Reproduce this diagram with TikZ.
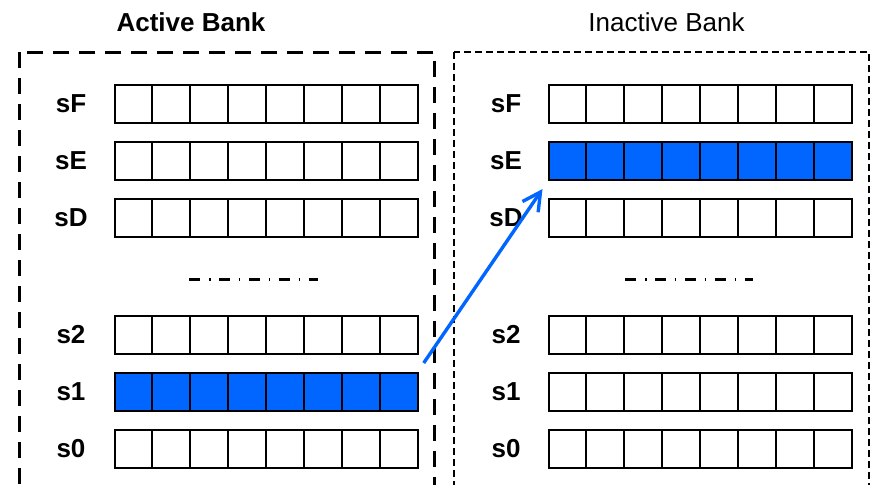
\documentclass[tikz,border=0pt]{standalone}
\usepackage{fontspec}
\setmainfont{Liberation Sans}
\usetikzlibrary{arrows.meta,calc}
\definecolor{regblue}{RGB}{0,102,255}
\tikzset{
cell/.style={
  draw=black,
  line width=1pt,
  minimum width=18.95pt,
  minimum height=19pt,
  inner sep=0pt,
  outer sep=0pt
},
act-1/.style={fill=regblue},
inact-E/.style={fill=regblue},
reglabel/.style={
  font=\fontsize{13}{15}\selectfont\bfseries,
  inner sep=0pt
},
banktitle/.style={
  font=\fontsize{13}{15}\selectfont,
  inner sep=0pt
},
activebox/.style={
  draw=black,
  line width=1.5pt,
  dash pattern=on 8pt off 5pt
},
inactivebox/.style={
  draw=black,
  line width=0.65pt,
  dash pattern=on 3.5pt off 2pt
},
gapline/.style={
  draw=black,
  line width=1.5pt,
  dash pattern=on 5.7pt off 4.2pt on 0.85pt off 4.2pt
},
movearrow/.style={
  -{Straight Barb[length=9pt,width=9.5pt]},
  line width=1.7pt,
  draw=regblue
}
}

\begin{document}
\begin{tikzpicture}[x=0.5pt,y=-0.5pt]
    \useasboundingbox (0,0) rectangle (871,484);
    \clip (0,0) rectangle (871,484);

    % Bank frames
    \draw[activebox] (19,52) rectangle (434,520);
    \draw[inactivebox] (454,52) rectangle (869,520);

    % Titles
    \node[banktitle, font=\fontsize{13}{15}\selectfont\bfseries] (acttitle) at (191,22) {Active Bank};
    \node[banktitle] (inacttitle) at (666.5,22) {Inactive Bank};

    % Registers
    \foreach \r/\y in {F/104,E/161,D/218,2/335,1/392,0/449} {
      \node[reglabel] (act-l\r) at (71,\y) {s\r};
      \node[reglabel] (inact-l\r) at (506,\y) {s\r};
      \foreach \c in {1,...,8} {
        \node[cell, act-\r/.try] (act-\r-\c) at ({114.5+37.9*(\c-0.5)},\y) {};
        \node[cell, inact-\r/.try] (inact-\r-\c) at ({548.5+37.9*(\c-0.5)},\y) {};
      }
    }

    % Omitted registers
    \coordinate (actgapA) at (189,279);
    \coordinate (actgapB) at (318,279);
    \coordinate (inactgapA) at (625,279);
    \coordinate (inactgapB) at (753,279);
    \draw[gapline] (actgapA) -- (actgapB);
    \draw[gapline] (inactgapA) -- (inactgapB);

    % Copy s1 -> sE
    \draw[movearrow] ($(act-1-8.north east)+(6,-10)$) -- ($(inact-E-1.south west)+(-6,9)$);

  \end{tikzpicture}
\end{document}
